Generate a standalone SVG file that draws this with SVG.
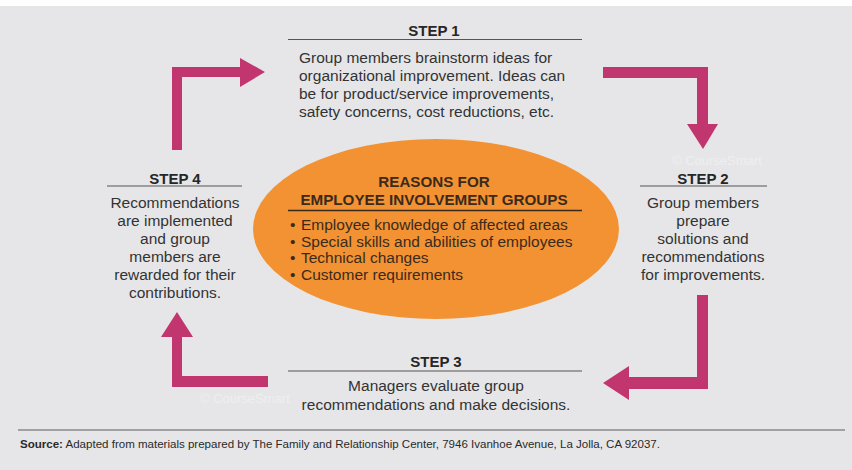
<svg xmlns="http://www.w3.org/2000/svg" width="852" height="470" viewBox="0 0 852 470">
  <style>
    .bg { fill: #e6e6e8; }
    .arrow { fill: #c2366f; }
    .head { font-family: "Liberation Sans", Arial, sans-serif; font-weight: bold; font-size: 15px; fill: #262626; text-anchor: middle; }
    .body { font-family: "Liberation Sans", Arial, sans-serif; font-size: 15.5px; fill: #333333; }
    .mid { text-anchor: middle; }
    .rule { stroke: #555; stroke-width: 1.2; }
    .oval { fill: #f39232; }
    .ohead { font-family: "Liberation Sans", Arial, sans-serif; font-weight: bold; font-size: 15.2px; fill: #3b2a1c; text-anchor: middle; }
    .obody { font-family: "Liberation Sans", Arial, sans-serif; font-size: 15.5px; fill: #3b2a1c; }
    .mark { font-family: "Liberation Sans", Arial, sans-serif; font-size: 13px; fill: #ffffff; opacity: 0.35; }
    .src { font-family: "Liberation Sans", Arial, sans-serif; font-size: 11px; fill: #2a2a2a; }
  </style>

  <rect x="0" y="0" width="852" height="470" fill="#ffffff"/>
  <rect class="bg" x="0" y="6" width="852" height="464"/>

  <!-- connectors: bent arrows between the steps -->
  <g id="connectors">
    <polygon class="arrow" points="172,150 172,67 240,67 240,58 265,72 240,87 240,77 182,77 182,150"/>
    <polygon class="arrow" points="603,67 708,67 708,124 718,124 703,149 687,124 697,124 697,78 603,78"/>
    <polygon class="arrow" points="697,295 708,295 708,389 629,389 629,400 603,383 629,366 629,377 697,377"/>
    <polygon class="arrow" points="268,376 268,387 172,387 172,337 161,337 177,312 193,337 182,337 182,376"/>
  </g>

  <!-- central oval -->
  <g id="reasons">
    <ellipse class="oval" cx="436" cy="229" rx="183" ry="90"/>
    <text class="ohead" x="434" y="187">REASONS FOR</text>
    <text class="ohead" x="434" y="205">EMPLOYEE INVOLVEMENT GROUPS</text>
    <line x1="288" y1="210.5" x2="582" y2="210.5" stroke="#3b2a1c" stroke-width="1.3"/>
    <text class="obody" y="230"><tspan x="290">•</tspan><tspan x="301">Employee knowledge of affected areas</tspan></text>
    <text class="obody" y="247"><tspan x="290">•</tspan><tspan x="301">Special skills and abilities of employees</tspan></text>
    <text class="obody" y="263"><tspan x="290">•</tspan><tspan x="301">Technical changes</tspan></text>
    <text class="obody" y="280"><tspan x="290">•</tspan><tspan x="301">Customer requirements</tspan></text>
  </g>

  <!-- step 1 -->
  <g id="step1">
    <text class="head" x="434" y="36">STEP 1</text>
    <line class="rule" x1="288" y1="39.5" x2="582" y2="39.5"/>
    <text class="body" x="299" y="63">Group members brainstorm ideas for</text>
    <text class="body" x="299" y="81">organizational improvement. Ideas can</text>
    <text class="body" x="299" y="99">be for product/service improvements,</text>
    <text class="body" x="299" y="117">safety concerns, cost reductions, etc.</text>
  </g>

  <!-- step 2 -->
  <g id="step2">
    <text class="mark" x="672" y="165">© CourseSmart</text>
    <text class="head" x="703" y="184">STEP 2</text>
    <line class="rule" x1="640" y1="186" x2="767" y2="186"/>
    <text class="body mid" x="703" y="208">Group members</text>
    <text class="body mid" x="703" y="226">prepare</text>
    <text class="body mid" x="703" y="244">solutions and</text>
    <text class="body mid" x="703" y="262">recommendations</text>
    <text class="body mid" x="703" y="280">for improvements.</text>
  </g>

  <!-- step 3 -->
  <g id="step3">
    <text class="mark" x="200" y="403">© CourseSmart</text>
    <text class="head" x="436" y="367">STEP 3</text>
    <line class="rule" x1="288" y1="371" x2="582" y2="371"/>
    <text class="body mid" x="436" y="391">Managers evaluate group</text>
    <text class="body mid" x="436" y="410">recommendations and make decisions.</text>
  </g>

  <!-- step 4 -->
  <g id="step4">
    <text class="head" x="175" y="184">STEP 4</text>
    <line class="rule" x1="107" y1="186" x2="242" y2="186"/>
    <text class="body mid" x="175" y="208">Recommendations</text>
    <text class="body mid" x="175" y="226">are implemented</text>
    <text class="body mid" x="175" y="244">and group</text>
    <text class="body mid" x="175" y="262">members are</text>
    <text class="body mid" x="175" y="280">rewarded for their</text>
    <text class="body mid" x="175" y="298">contributions.</text>
  </g>

  <!-- source note -->
  <g id="source">
    <line x1="18" y1="430" x2="845" y2="430" stroke="#8a8a8a" stroke-width="1.5"/>
    <text class="src" x="20" y="448" textLength="640" lengthAdjust="spacingAndGlyphs"><tspan font-weight="bold">Source:</tspan> Adapted from materials prepared by The Family and Relationship Center, 7946 Ivanhoe Avenue, La Jolla, CA 92037.</text>
  </g>
</svg>
